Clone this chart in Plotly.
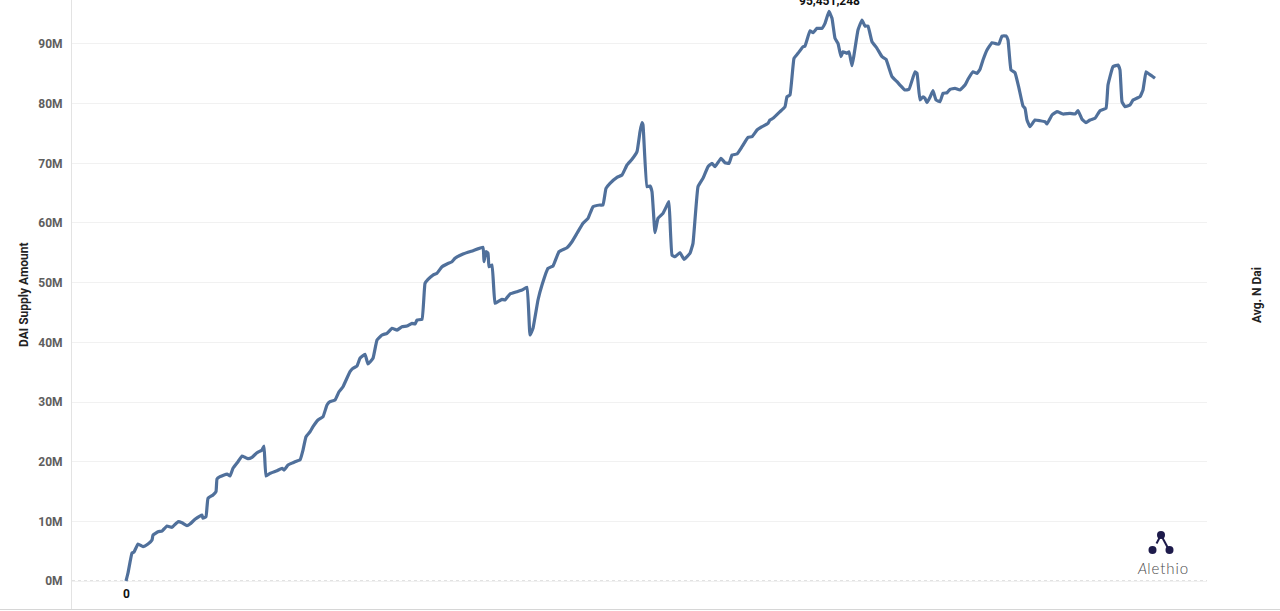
import plotly.graph_objects as go

# ---- data (day index since launch, DAI supply in millions) ----
days = [0, 2, 6, 8, 12, 17, 22, 26, 27, 32, 36, 41, 46, 52, 56, 61, 64, 69, 76, 77,
        80, 82, 87, 90, 91, 94, 101, 104, 107, 112, 116, 119, 122, 126, 131, 136, 138, 140, 144, 151,
        156, 158, 162, 167, 171, 174, 177, 180, 184, 187, 192, 197, 201, 204, 209, 213, 217, 224, 227, 231,
        234, 239, 242, 247, 251, 256, 261, 266, 271, 276, 281, 286, 289, 291, 296, 299, 302, 307, 311, 316,
        321, 326, 329, 337, 347, 357, 358, 360, 362, 363, 366, 369, 372, 376, 379, 384, 391, 396, 401, 404,
        407, 412, 416, 422, 427, 433, 441, 446, 451, 457, 462, 467, 474, 477, 480, 484, 491, 496, 501, 506,
        511, 514, 516, 517, 521, 524, 526, 529, 532, 537, 542, 543, 546, 549, 554, 558, 564, 567, 572, 577,
        582, 586, 589, 595, 599, 603, 606, 611, 616, 622, 626, 631, 636, 642, 644, 647, 654, 659, 661, 664,
        668, 672, 677, 679, 684, 687, 691, 696, 699, 703, 706, 709, 712, 715, 717, 721, 723, 726, 728, 732,
        736, 739, 742, 746, 751, 756, 760, 766, 771, 774, 779, 783, 789, 791, 794, 797, 799, 801, 804, 807,
        810, 814, 817, 821, 824, 829, 834, 839, 842, 847, 851, 854, 857, 861, 866, 871, 873, 876, 880, 882,
        885, 889, 893, 897, 899, 901, 904, 909, 914, 919, 921, 926, 931, 937, 944, 949, 952, 956, 960, 964,
        969, 974, 980, 982, 987, 992, 994, 996, 999, 1004, 1007, 1014, 1017, 1020, 1022, 1026, 1029]

supply_m = [0.0, 1.34, 4.69, 4.86, 6.20, 5.75, 6.20, 6.87, 7.71, 8.26, 8.38, 9.22, 9.00, 9.94, 9.77, 9.27, 9.55, 10.34, 11.06, 10.51,
            10.78, 13.86, 14.41, 14.97, 17.09, 17.48, 17.93, 17.60, 18.89, 19.99, 20.95, 20.73, 20.50, 20.73, 21.50, 21.95, 22.62, 17.60, 18.05, 18.48,
            18.89, 18.60, 19.44, 19.83, 20.11, 20.28, 21.95, 24.18, 25.02, 25.86, 26.98, 27.53, 29.50, 30.05, 30.33, 31.72, 32.56, 35.08, 35.65, 36.03,
            37.32, 37.99, 36.37, 37.32, 40.39, 41.23, 41.51, 42.35, 42.06, 42.62, 42.74, 43.19, 43.07, 43.74, 43.86, 49.89, 50.56, 51.28, 51.57, 52.67,
            53.13, 53.51, 54.08, 54.80, 55.35, 55.92, 53.51, 55.19, 54.92, 52.67, 52.96, 46.54, 46.81, 47.21, 47.09, 48.10, 48.48, 48.77, 49.22, 41.23,
            42.35, 47.09, 49.61, 52.40, 52.79, 55.19, 55.86, 56.86, 58.27, 59.95, 60.78, 62.73, 63.01, 63.01, 65.81, 66.65, 67.66, 68.04, 69.72, 70.67,
            71.95, 75.30, 76.81, 76.42, 66.08, 66.20, 65.24, 58.37, 60.78, 61.62, 63.30, 63.57, 54.63, 54.35, 55.02, 53.91, 54.92, 56.59, 66.08, 67.49,
            69.43, 70.00, 69.43, 70.84, 70.10, 70.00, 71.39, 71.56, 72.78, 74.36, 74.46, 75.58, 76.14, 76.71, 77.26, 77.54, 78.65, 79.49, 81.16, 81.45,
            87.60, 88.44, 89.54, 89.66, 92.22, 91.89, 92.63, 92.63, 93.46, 95.451248, 94.30, 90.95, 90.11, 87.87, 88.70, 88.44, 88.70, 86.36, 88.15, 92.34,
            94.02, 93.01, 93.01, 90.38, 89.27, 87.87, 87.43, 84.52, 83.68, 83.12, 82.29, 82.40, 85.35, 85.08, 80.61, 81.16, 80.89, 80.16, 81.06, 82.17,
            80.61, 80.33, 81.73, 81.83, 82.40, 82.57, 82.29, 83.12, 84.08, 85.35, 85.08, 85.75, 87.31, 88.99, 90.21, 90.00, 90.00, 91.34, 91.34, 90.67,
            85.64, 85.18, 82.57, 79.60, 79.22, 77.26, 76.14, 77.26, 77.14, 76.97, 76.59, 78.10, 78.65, 78.26, 78.38, 78.26, 78.82, 77.38, 76.81, 77.26,
            77.54, 78.82, 79.22, 83.12, 86.19, 86.48, 85.64, 80.33, 79.49, 79.77, 80.61, 81.16, 82.29, 85.35, 85.08, 84.63, 84.25]

tick_vals = [0, 10, 20, 30, 40, 50, 60, 70, 80, 90]
tick_text = ["0M", "10M", "20M", "30M", "40M", "50M", "60M", "70M", "80M", "90M"]

peak_label = "95,451,248"
start_label = "0"

# ---- layout geometry ----
W, H = 1280, 611
L, R, T, B = 72, 73, 0, 2
pw, ph = W - L - R, H - T - B
x_range = [-54, 1081]
y_range = [-4.69, 97.37]

def px2paper(x, y):
    return (x - L) / pw, (H - B - y) / ph

LINE = "#50709b"
TICK_FONT = dict(family="Roboto, Arial, sans-serif", size=12, color="#5e5e5e", weight="bold")

fig = go.Figure()
fig.add_trace(go.Scatter(x=days, y=supply_m, mode="lines",
                         line=dict(color=LINE, width=3.2, shape="spline", smoothing=0.3),
                         hoverinfo="skip", showlegend=False))

peak_i = supply_m.index(max(supply_m))
fig.add_annotation(x=days[peak_i], y=supply_m[peak_i], text="<b>" + peak_label + "</b>",
                   showarrow=False, xanchor="center", yanchor="bottom", yshift=1,
                   font=dict(family="Roboto, Arial, sans-serif", size=12, color="#111111"))
fig.add_annotation(x=days[0], y=supply_m[0], text="<b>" + start_label + "</b>",
                   showarrow=False, xanchor="center", yanchor="top", yshift=-4,
                   font=dict(family="Roboto, Arial, sans-serif", size=12, color="#111111"))

fig.update_layout(
    width=W, height=H,
    margin=dict(l=L, r=R, t=T, b=B, pad=0),
    paper_bgcolor="white", plot_bgcolor="white",
    xaxis=dict(range=x_range, visible=True, showticklabels=False, showgrid=False,
               zeroline=False, ticks="", showline=False),
    yaxis=dict(range=y_range, tickvals=tick_vals, ticktext=tick_text, tickfont=TICK_FONT,
               showgrid=True, gridcolor="#f1f1f1", gridwidth=1, zeroline=False,
               showline=True, linecolor="#e3e3e3", linewidth=1, ticks="",
               ticklabelstandoff=6),
    yaxis2=dict(range=y_range, tickvals=tick_vals, ticktext=tick_text, tickfont=TICK_FONT,
                overlaying="y", side="right", showgrid=False, zeroline=False,
                showline=True, linecolor="#e3e3e3", linewidth=1, ticks="",
                ticklabelstandoff=6),
    showlegend=False,
)

# dotted zero baseline
fig.add_shape(type="line", xref="paper", yref="y", x0=0, x1=1, y0=0, y1=0,
              line=dict(color="#c4c4c4", width=1, dash="dot"), layer="below")
# bottom border across the whole width
bx0, _ = px2paper(0, 0)
bx1, _ = px2paper(W, 0)
_, by = px2paper(0, 609.5)
fig.add_shape(type="line", xref="paper", yref="paper", x0=bx0, x1=bx1, y0=by, y1=by,
              line=dict(color="#d6d6d6", width=1))

# axis titles
fig.add_annotation(xref="paper", yref="paper", x=px2paper(24, 0)[0], y=px2paper(0, 295)[1],
                   xanchor="center", yanchor="middle",
                   text="<b>DAI Supply Amount</b>", textangle=-90, showarrow=False,
                   font=dict(family="Roboto, Arial, sans-serif", size=12, color="#222222"))
fig.add_annotation(xref="paper", yref="paper", x=px2paper(1257, 0)[0], y=px2paper(0, 295)[1],
                   xanchor="center", yanchor="middle",
                   text="<b>Avg. N Dai</b>", textangle=-90, showarrow=False,
                   font=dict(family="Roboto, Arial, sans-serif", size=12, color="#222222"))

# Alethio logo
NAVY = "#1e1b4b"
def dot(cx, cy, r=4):
    x0, y0 = px2paper(cx - r, cy + r)
    x1, y1 = px2paper(cx + r, cy - r)
    fig.add_shape(type="circle", xref="paper", yref="paper", x0=x0, y0=y0, x1=x1, y1=y1,
                  fillcolor=NAVY, line=dict(color=NAVY, width=0))

def seg(ax, ay, bx, by_):
    x0, y0 = px2paper(ax, ay)
    x1, y1 = px2paper(bx, by_)
    fig.add_shape(type="line", xref="paper", yref="paper", x0=x0, y0=y0, x1=x1, y1=y1,
                  line=dict(color=NAVY, width=2))

seg(1161, 535, 1169, 550)
seg(1161, 535, 1156.5, 543.5)
dot(1161, 535)
dot(1152.5, 550)
dot(1169.5, 550)
fig.add_annotation(xref="paper", yref="paper", x=px2paper(1162, 0)[0], y=px2paper(0, 568)[1],
                   xanchor="center", yanchor="middle",
                   text="<i>A</i>l e t h i o".replace(" ", "&#8202;"), showarrow=False,
                   font=dict(family="Lato, Open Sans, sans-serif", size=15, color="#4a4a4a",
                             weight=300))

fig.write_html("out.html", config={"displayModeBar": False},
               post_script="document.body.style.margin='0';document.body.style.overflow='hidden';")
